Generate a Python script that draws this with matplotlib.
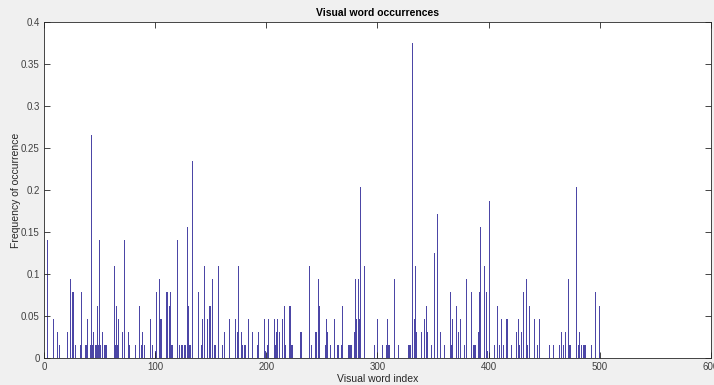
import matplotlib
matplotlib.use("Agg")
import matplotlib.pyplot as plt

# visual word histogram (only non-zero bins listed, the rest are 0)
word_index = [
    3, 9, 12, 14, 21, 24, 26, 27, 28, 33, 34, 37, 38, 39, 42, 43, 44, 45, 46, 47,
    48, 49, 50, 51, 53, 54, 55, 56, 63, 64, 65, 66, 67, 71, 72, 76, 77, 82, 86, 88,
    89, 90, 96, 98, 100, 101, 104, 105, 106, 110, 111, 113, 114, 115, 116, 120, 122, 124, 125, 126,
    127, 129, 130, 131, 132, 134, 139, 142, 143, 144, 147, 149, 150, 152, 153, 154, 157, 161, 162, 167,
    172, 174, 175, 178, 179, 180, 181, 184, 188, 192, 193, 198, 199, 201, 202, 207, 208, 209, 210, 212,
    215, 216, 217, 221, 222, 223, 224, 231, 232, 239, 241, 244, 245, 247, 248, 253, 254, 255, 258, 261,
    264, 265, 268, 269, 274, 275, 276, 277, 279, 280, 281, 283, 284, 285, 288, 297, 300, 305, 308, 309,
    310, 311, 315, 319, 328, 329, 330, 332, 333, 334, 335, 340, 342, 344, 345, 349, 351, 354, 357, 360,
    366, 367, 368, 371, 373, 375, 378, 380, 385, 386, 387, 388, 391, 392, 393, 396, 398, 399, 401, 405,
    408, 410, 412, 413, 416, 417, 421, 425, 427, 428, 430, 431, 434, 435, 437, 441, 444, 446, 455, 458,
    464, 466, 467, 469, 472, 473, 474, 479, 481, 482, 484, 485, 486, 487, 493, 496, 500,
]
frequency = [
    0.1406, 0.0469, 0.0312, 0.0156, 0.0312, 0.0938, 0.0781, 0.0781, 0.0156, 0.0156,
    0.0781, 0.0156, 0.0156, 0.0469, 0.0156, 0.2656, 0.0156, 0.0312, 0.0156, 0.0156,
    0.0625, 0.0156, 0.1406, 0.0156, 0.0312, 0.0156, 0.0156, 0.0156, 0.1094, 0.0156,
    0.0625, 0.0156, 0.0469, 0.0312, 0.1406, 0.0312, 0.0156, 0.0156, 0.0625, 0.0156,
    0.0312, 0.0156, 0.0469, 0.0156, 0.0078, 0.0781, 0.0938, 0.0469, 0.0469, 0.0781,
    0.0781, 0.0625, 0.0781, 0.0156, 0.0156, 0.1406, 0.0156, 0.0156, 0.0156, 0.0156,
    0.0156, 0.1562, 0.0625, 0.0156, 0.0156, 0.2344, 0.0781, 0.0156, 0.0469, 0.1094,
    0.0469, 0.0625, 0.0625, 0.0938, 0.0156, 0.0156, 0.1094, 0.0156, 0.0312, 0.0469,
    0.0469, 0.0312, 0.1094, 0.0312, 0.0156, 0.0156, 0.0156, 0.0469, 0.0312, 0.0156,
    0.0312, 0.0469, 0.0078, 0.0156, 0.0469, 0.0469, 0.0156, 0.0312, 0.0469, 0.0312,
    0.0469, 0.0625, 0.0156, 0.0625, 0.0625, 0.0156, 0.0156, 0.0312, 0.0312, 0.1094,
    0.0156, 0.0312, 0.0312, 0.0938, 0.0625, 0.0156, 0.0469, 0.0312, 0.0156, 0.0469,
    0.0156, 0.0156, 0.0156, 0.0625, 0.0156, 0.0156, 0.0156, 0.0156, 0.0312, 0.0938,
    0.0469, 0.0938, 0.0469, 0.2031, 0.1094, 0.0156, 0.0469, 0.0156, 0.0156, 0.0469,
    0.0156, 0.0156, 0.0938, 0.0156, 0.0156, 0.0156, 0.0156, 0.3750, 0.0469, 0.1094,
    0.0312, 0.0312, 0.0469, 0.0625, 0.0312, 0.0156, 0.1250, 0.1719, 0.0312, 0.0156,
    0.0781, 0.0156, 0.0469, 0.0625, 0.0312, 0.0469, 0.0156, 0.0938, 0.0781, 0.0156,
    0.0156, 0.0156, 0.0312, 0.0781, 0.1562, 0.1094, 0.0781, 0.0078, 0.1875, 0.0156,
    0.0625, 0.0156, 0.0469, 0.0156, 0.0469, 0.0469, 0.0156, 0.0312, 0.0469, 0.0156,
    0.0312, 0.0781, 0.0938, 0.0156, 0.0625, 0.0469, 0.0156, 0.0469, 0.0156, 0.0156,
    0.0156, 0.0312, 0.0156, 0.0312, 0.0938, 0.0156, 0.0156, 0.2031, 0.0156, 0.0312,
    0.0156, 0.0156, 0.0156, 0.0156, 0.0156, 0.0781, 0.0625,
]

x_ticks = [0, 100, 200, 300, 400, 500, 600]
y_ticks = [0, 0.05, 0.1, 0.15, 0.2, 0.25, 0.3, 0.35, 0.4]

plt.rcParams['font.family'] = ['Liberation Sans', 'DejaVu Sans']

fig = plt.figure(figsize=(7.14, 3.85), dpi=100, facecolor='#f0f0f0')
ax = fig.add_axes([0.0616, 0.070, 0.934, 0.873])
ax.set_facecolor('white')

ax.bar(word_index, frequency, width=0.9, color='#4c46a6', edgecolor='none')

ax.set_xlim(0, 600)
ax.set_ylim(0, 0.4)
ax.set_xticks(x_ticks)
ax.set_xticklabels([str(t) for t in x_ticks])
ax.set_yticks(y_ticks)
ax.set_yticklabels(['0', '0.05', '0.1', '0.15', '0.2', '0.25', '0.3', '0.35', '0.4'])

ax.tick_params(direction='in', length=4, width=0.6, colors='#262626',
               labelcolor='#404040', labelsize=7, top=True, right=True, pad=3)
for side in ax.spines.values():
    side.set_color('#262626')
    side.set_linewidth(0.6)

ax.set_title('Visual word occurrences', fontsize=7.5, fontweight='bold', color='black', pad=4)
ax.set_xlabel('Visual word index', fontsize=7.5, color='#262626', labelpad=1)
ax.set_ylabel('Frequency of occurrence', fontsize=7.5, color='#262626', labelpad=0)

fig.savefig('out.png', dpi=100, facecolor=fig.get_facecolor())
